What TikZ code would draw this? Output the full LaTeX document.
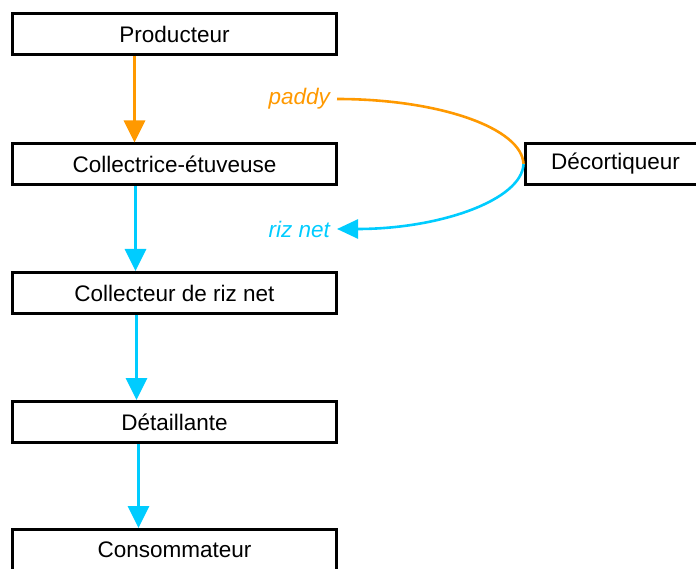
\documentclass[tikz,border=0pt]{standalone}
\usepackage{fontspec}
\setmainfont{Liberation Sans}
\usetikzlibrary{arrows.meta}
\definecolor{paddyorange}{HTML}{FF9900}
\definecolor{rizcyan}{HTML}{00CCFF}
\tikzset{
  boxnode/.style={draw=black, line width=3pt, fill=white, minimum width=324pt, minimum height=41pt,
    inner sep=0pt, font=\fontsize{22.5}{27}\selectfont},
  flowarrow/.style={line width=3pt, -{Triangle[width=21pt,length=22pt]}},
  labeltext/.style={font=\fontsize{22.5}{27}\selectfont\itshape, inner xsep=7pt, inner ysep=2pt, anchor=east},
}
\begin{document}
\begin{tikzpicture}[x=1pt,y=-1pt]
\useasboundingbox (0,0) rectangle (696,569);
\node[boxnode] (prod) at (174.5,34) {Producteur};
\node[boxnode] (coll) at (174.5,164.5) {Collectrice-étuveuse};
\node[boxnode] (collr) at (174.5,293) {Collecteur de riz net};
\node[boxnode] (det) at (174.5,422) {Détaillante};
\node[boxnode] (cons) at (174.5,550) {Consommateur};
\node[boxnode, minimum width=181pt, anchor=west] (dec) at (523.5,164) {Décortiqueur};
\node[labeltext, text=paddyorange] (paddy) at (337,99) {paddy};
\node[labeltext, text=rizcyan] (riz) at (337,229) {riz net};
\draw[flowarrow, paddyorange] ([xshift=-40pt]prod.south) -- ([xshift=-40pt]coll.north);
\draw[flowarrow, rizcyan] ([xshift=-39pt]coll.south) -- ([xshift=-39pt]collr.north);
\draw[flowarrow, rizcyan] ([xshift=-38pt]collr.south) -- ([xshift=-38pt]det.north);
\draw[flowarrow, rizcyan] ([xshift=-36pt]det.south) -- ([xshift=-36pt]cons.north);
\draw[paddyorange, line width=2.6pt] (paddy.east) .. controls (439,99) and (522,128) .. (dec.west);
\draw[rizcyan, line width=2.6pt, -{Triangle[width=19pt,length=21pt]}] (dec.west) .. controls (522,200) and (440,229) .. (riz.east);
\end{tikzpicture}
\end{document}
